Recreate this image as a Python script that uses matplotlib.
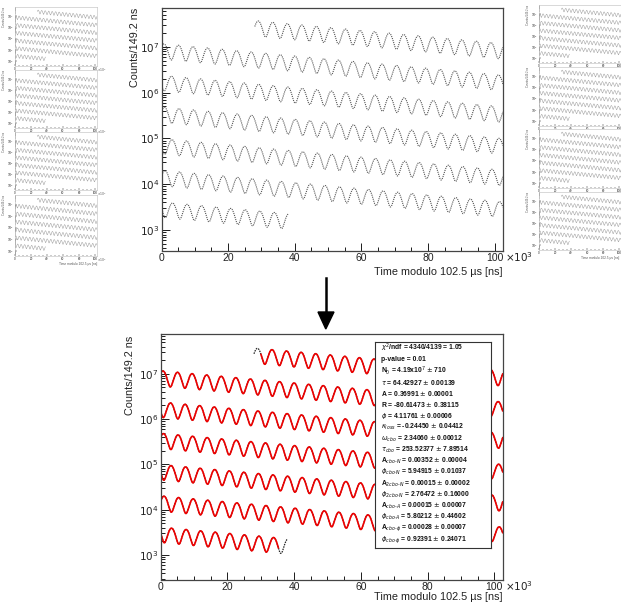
import numpy as np
import matplotlib.pyplot as plt
from matplotlib.ticker import LogLocator, MultipleLocator, NullFormatter, FuncFormatter

plt.rcParams['font.family'] = ['Liberation Sans', 'DejaVu Sans']

# fit parameters as printed in the stats box (times in us)
N0 = 4.19e7
tau = 64.42927
A = 0.36991
phi = 4.11761
period_a = 4.365      # g-2 period
fill_mod = 102.5      # time modulo [us]
bin_w = 0.1492        # bin width [us]

data_start, data_end = 28.0, 653.0
fit_start, fit_end = 30.1, 650.3

stats_lines = [
    r"$\chi^2$/ndf = 4340/4139 = 1.05",
    "p-value = 0.01",
    r"N$_0$ = 4.19x10$^7$ $\pm$ 710",
    r"$\tau$ = 64.42927 $\pm$ 0.00139",
    r"A = 0.36991 $\pm$ 0.00001",
    r"R = -80.61473 $\pm$ 0.38115",
    r"$\phi$ = 4.11761 $\pm$ 0.00006",
    r"$\kappa_{loss}$ = -0.24450 $\pm$ 0.04412",
    r"$\omega_{cbo}$ = 2.34060 $\pm$ 0.00012",
    r"$\tau_{cbo}$ = 253.52377 $\pm$ 7.89514",
    r"A$_{cbo\text{-}N}$ = 0.00352 $\pm$ 0.00004",
    r"$\phi_{cbo\text{-}N}$ = 5.94915 $\pm$ 0.01037",
    r"A$_{2cbo\text{-}N}$ = 0.00015 $\pm$ 0.00002",
    r"$\phi_{2cbo\text{-}N}$ = 2.76472 $\pm$ 0.16000",
    r"A$_{cbo\text{-}A}$ = 0.00015 $\pm$ 0.00007",
    r"$\phi_{cbo\text{-}A}$ = 5.80212 $\pm$ 0.44602",
    r"A$_{cbo\text{-}\phi}$ = 0.00028 $\pm$ 0.00007",
    r"$\phi_{cbo\text{-}\phi}$ = 0.92391 $\pm$ 0.24071",
]

W, H = 621, 603


def box(l, t, r, b):
    return [l / W, 1 - b / H, (r - l) / W, (b - t) / H]


def wiggle(t):
    return N0 * np.exp(-t / tau) * (1 + A * np.cos(2 * np.pi * t / period_a - phi))


t_data = np.arange(data_start, data_end, bin_w)
y_data = wiggle(t_data)
t_fit = np.linspace(fit_start, fit_end, 20000)
y_fit = wiggle(t_fit)


def draw_rows(ax, t, y, **kw):
    row = np.floor(t / fill_mod)
    for k in np.unique(row):
        m = row == k
        ax.plot((t[m] - k * fill_mod) * 1e3, y[m], **kw)


def decade(v, pos):
    return r"$10^{%d}$" % round(np.log10(v))


def style(ax, ylim, fs, lw=0.9, maj=5.5, mnr=2.8, fc="#444", pad=None):
    ax.set_yscale("log")
    ax.set_xlim(0, fill_mod * 1e3)
    ax.set_ylim(*ylim)
    ax.xaxis.set_major_locator(MultipleLocator(20000))
    ax.xaxis.set_minor_locator(MultipleLocator(5000))
    ax.xaxis.set_major_formatter(FuncFormatter(lambda v, p: "%d" % round(v / 1000)))
    ax.yaxis.set_major_locator(LogLocator(base=10, numticks=20))
    ax.yaxis.set_minor_locator(LogLocator(base=10, subs=np.arange(2, 10), numticks=20))
    ax.yaxis.set_major_formatter(FuncFormatter(decade))
    ax.yaxis.set_minor_formatter(NullFormatter())
    ax.tick_params(which="both", direction="in", top=False, right=False,
                   labelsize=fs, colors="#222", width=lw * 0.8,
                   pad=fs * 0.3 if pad is None else pad)
    ax.tick_params(which="major", length=maj)
    ax.tick_params(which="minor", length=mnr)
    for s in ax.spines.values():
        s.set_color(fc)
        s.set_linewidth(lw)


fig = plt.figure(figsize=(W / 100, H / 100), dpi=100)

# ---- small overview panels, left and right columns
left_boxes = [(15, 7, 97, 66), (15, 70, 97, 128), (15, 132, 97, 190), (15, 195, 97, 256)]
right_boxes = [(539, 5, 621, 63), (539, 67, 621, 126), (539, 129, 621, 188), (539, 192, 621, 250)]
for side, bl in (("left", left_boxes), ("right", right_boxes)):
    for i, b in enumerate(bl):
        ax = fig.add_axes(box(*b))
        draw_rows(ax, t_data, y_data, color="#9a9a9a", lw=0.35)
        style(ax, (10 ** 2.55, 10 ** 7.84), 2.2, lw=0.4, maj=1.5, mnr=0.8, fc="#bbbbbb", pad=0.6)
        if side == "left":
            ax.text(1.005, -0.01, r"$\times10^3$", transform=ax.transAxes, fontsize=2.2,
                    color="#555", ha="left", va="top")
        ax.text(-0.13, 1.0, "Counts/149.2 ns", transform=ax.transAxes, fontsize=2.0,
                color="#555", rotation=90, ha="center", va="top")
        if i == len(bl) - 1:
            xr = 1.0 if side == "left" else 0.98
            ax.text(xr, -0.1, "Time modulo 102.5 µs [ns]", transform=ax.transAxes,
                    fontsize=2.3, color="#555", ha="right", va="top")

# ---- top main panel (data)
ax1 = fig.add_axes(box(161.5, 8.3, 503, 250.7))
draw_rows(ax1, t_data, y_data, color="#555555", lw=0.8, ls=(0, (1.0, 0.9)))
style(ax1, (10 ** 2.55, 10 ** 7.84), 7.5, pad=1.5)
fig.text(505.5 / W, 1 - 250 / H, r"$\times10^3$", fontsize=7.5, color="#222", ha="left", va="top")
fig.text(503 / W, 1 - 277 / H, "Time modulo 102.5 µs [ns]", fontsize=7.8,
         color="#222", ha="right", va="bottom")
fig.text(135 / W, 1 - 8 / H, "Counts/149.2 ns", fontsize=7.8, color="#222",
         rotation=90, ha="center", va="top")

# ---- arrow
fig.add_artist(plt.Line2D([325.7 / W, 325.7 / W], [1 - 278 / H, 1 - 313 / H],
                          color="black", lw=1.8))
fig.add_artist(plt.Polygon([[318 / W, 1 - 312 / H], [334 / W, 1 - 312 / H],
                            [325.8 / W, 1 - 329 / H]], closed=True, color="black",
                           transform=fig.transFigure))

# ---- bottom panel (data + fit)
ax2 = fig.add_axes(box(160.5, 334, 502.7, 580))
draw_rows(ax2, t_data, y_data, color="#222222", lw=0.9, ls=(0, (1.2, 0.8)))
draw_rows(ax2, t_fit, y_fit, color="#ee0000", lw=1.2)
style(ax2, (10 ** 2.447, 10 ** 7.88), 7.5, pad=1.5)
fig.text(505.5 / W, 1 - 579 / H, r"$\times10^3$", fontsize=7.5, color="#222", ha="left", va="top")
fig.text(503 / W, 1 - 602 / H, "Time modulo 102.5 µs [ns]", fontsize=7.8,
         color="#222", ha="right", va="bottom")
fig.text(130 / W, 1 - 336 / H, "Counts/149.2 ns", fontsize=7.8, color="#222",
         rotation=90, ha="center", va="top")

# stats box
sb = fig.add_axes(box(375, 342, 491, 548))
sb.set_xticks([])
sb.set_yticks([])
sb.set_facecolor("white")
for s in sb.spines.values():
    s.set_color("#333")
    s.set_linewidth(0.8)
y0, dy = 348.3, 11.27
for i, line in enumerate(stats_lines):
    fig.text(381 / W, 1 - (y0 + i * dy) / H, line, fontsize=4.9, fontweight="bold",
             color="#111", ha="left", va="center")

fig.savefig("out.png", dpi=100)
